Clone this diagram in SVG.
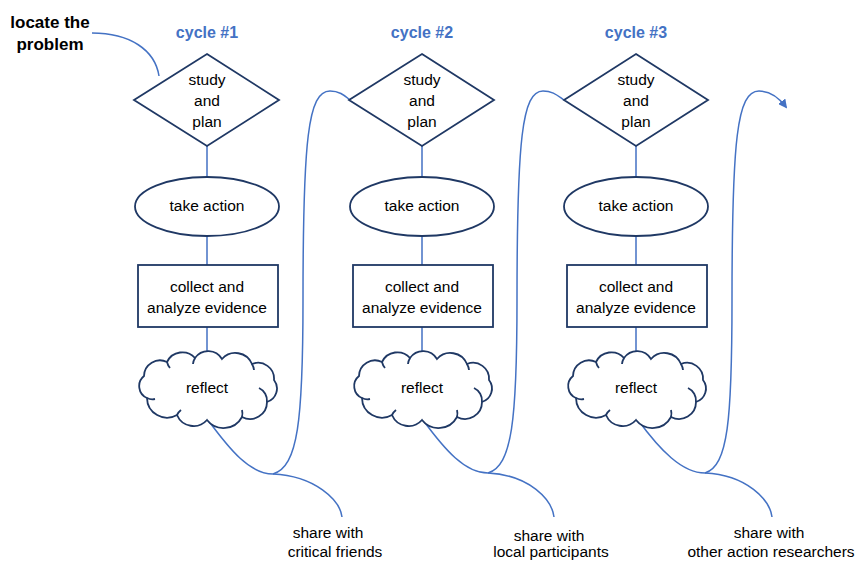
<svg xmlns="http://www.w3.org/2000/svg" width="857" height="561" viewBox="0 0 857 561">
<style>
.shape{fill:#fff;stroke:#1F3864;stroke-width:1.8}
.inner{fill:none;stroke:#1F3864;stroke-width:1.8}
.conn{fill:none;stroke:#4472C4;stroke-width:1.5}
.t{font-family:"Liberation Sans",Arial,sans-serif;font-size:15.5px;fill:#000;text-anchor:middle}
.title{font-family:"Liberation Sans",Arial,sans-serif;font-size:16px;font-weight:bold;fill:#4472C4;text-anchor:middle}
.lbl{font-family:"Liberation Sans",Arial,sans-serif;font-size:17px;font-weight:bold;fill:#000;text-anchor:middle}
</style>
<defs>
<marker id="arr" viewBox="0 0 10 10" refX="8" refY="5" markerWidth="6" markerHeight="6" orient="auto" markerUnits="strokeWidth">
<path d="M0,0 L10,5 L0,10 z" fill="#4472C4"/>
</marker>
<g id="cloud">
<path class="shape" d="M-60,10 A13,13 0 0 1 -63,-12 A16,16 0 0 1 -40,-26 A17,17 0 0 1 -12,-30 A16,16 0 0 1 15,-29 A18,18 0 0 1 45,-24 A16,16 0 0 1 67,-8 A14,14 0 0 1 60,14 A17,17 0 0 1 35,29 A21,21 0 0 1 0,32 A18,18 0 0 1 -30,27 A20,20 0 0 1 -60,10 Z"/>
<path class="inner" d="M-60,10 A12,12 0 0 0 -52,11"/>
<path class="inner" d="M-40,-26 A14,14 0 0 0 -37,-20"/>
<path class="inner" d="M-12,-30 A14,14 0 0 0 -14,-24"/>
<path class="inner" d="M45,-24 A14,14 0 0 1 47,-18"/>
<path class="inner" d="M60,14 A14,14 0 0 0 52,0"/>
<path class="inner" d="M35,29 A14,14 0 0 0 35,22"/>
<path class="inner" d="M-30,27 A14,14 0 0 1 -26,22"/>
</g>
</defs>

<g id="locate">
<text class="lbl" x="50" y="28">locate the</text>
<text class="lbl" x="50" y="50">problem</text>
</g>

<g id="connectors">
<path class="conn" d="M92,33 C130,33 155,50 159,76"/>
<path class="conn" d="M207,146 V177 M207,236 V265 M207,327 V358"/>
<path class="conn" d="M208,420 C230,450 250,474 273,474"/>
<path class="conn" d="M273,474 C315,476 340,500 342,517"/>
<path class="conn" d="M273,474 C298,467 303,420 303,300 C303,140 308,91 330,91 C340,91 345,96 350,100"/>
<path class="conn" d="M422,146 V177 M422,236 V265 M422,327 V358"/>
<path class="conn" d="M423,420 C445,450 465,473 488,473"/>
<path class="conn" d="M488,473 C530,475 552,500 554,517"/>
<path class="conn" d="M488,473 C512,466 517,420 517,300 C517,140 522,91 543,91 C553,91 558,96 564,100"/>
<path class="conn" d="M636,146 V177 M636,236 V265 M636,327 V358"/>
<path class="conn" d="M638,420 C660,450 682,473 705,473"/>
<path class="conn" d="M705,473 C747,475 770,500 772,517"/>
<path class="conn" marker-end="url(#arr)" d="M705,473 C728,466 732,420 732,300 C732,140 737,91 759,91 C771,91 780,99 786,107"/>
</g>

<g id="cycle1">
<text class="title" x="207" y="38">cycle #1</text>
<g id="c1-plan"><polygon class="shape" points="207,54 279,100 207,146 134,100"/>
<text class="t" x="207" y="85">study</text><text class="t" x="207" y="106">and</text><text class="t" x="207" y="127">plan</text></g>
<g id="c1-action"><ellipse class="shape" cx="207" cy="206.5" rx="72" ry="29.5"/><text class="t" x="207" y="211">take action</text></g>
<g id="c1-collect"><rect class="shape" x="138" y="265" width="140" height="62"/><text class="t" x="207" y="292">collect and</text><text class="t" x="207" y="313">analyze evidence</text></g>
<g id="c1-reflect"><use href="#cloud" transform="translate(207,388)"/><text class="t" x="207" y="393">reflect</text></g>
<g id="c1-share"><text class="t" x="328" y="538">share with</text><text class="t" x="335" y="557">critical friends</text></g>
</g>

<g id="cycle2">
<text class="title" x="422" y="38">cycle #2</text>
<g id="c2-plan"><polygon class="shape" points="422,54 494,100 422,146 349,100"/>
<text class="t" x="422" y="85">study</text><text class="t" x="422" y="106">and</text><text class="t" x="422" y="127">plan</text></g>
<g id="c2-action"><ellipse class="shape" cx="422" cy="206.5" rx="72" ry="29.5"/><text class="t" x="422" y="211">take action</text></g>
<g id="c2-collect"><rect class="shape" x="353" y="265" width="140" height="62"/><text class="t" x="422" y="292">collect and</text><text class="t" x="422" y="313">analyze evidence</text></g>
<g id="c2-reflect"><use href="#cloud" transform="translate(422,388)"/><text class="t" x="422" y="393">reflect</text></g>
<g id="c2-share"><text class="t" x="549" y="541">share with</text><text class="t" x="551" y="557">local participants</text></g>
</g>

<g id="cycle3">
<text class="title" x="636" y="38">cycle #3</text>
<g id="c3-plan"><polygon class="shape" points="636,54 708,100 636,146 564,100"/>
<text class="t" x="636" y="85">study</text><text class="t" x="636" y="106">and</text><text class="t" x="636" y="127">plan</text></g>
<g id="c3-action"><ellipse class="shape" cx="636" cy="206.5" rx="72" ry="29.5"/><text class="t" x="636" y="211">take action</text></g>
<g id="c3-collect"><rect class="shape" x="567" y="265" width="140" height="62"/><text class="t" x="636" y="292">collect and</text><text class="t" x="636" y="313">analyze evidence</text></g>
<g id="c3-reflect"><use href="#cloud" transform="translate(636,388)"/><text class="t" x="636" y="393">reflect</text></g>
<g id="c3-share"><text class="t" x="769" y="538">share with</text><text class="t" x="771" y="557">other action researchers</text></g>
</g>
</svg>
